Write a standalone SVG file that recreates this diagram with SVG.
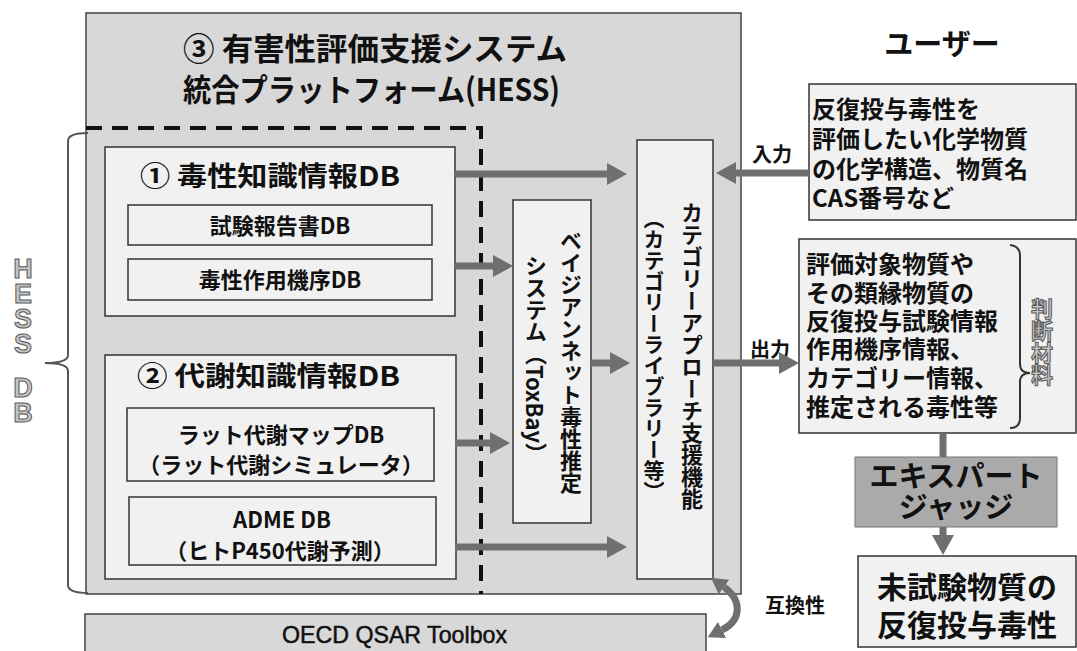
<svg xmlns="http://www.w3.org/2000/svg" width="1077" height="651" viewBox="0 0 1077 651">
<defs>
<style>
.jp{font-family:'Noto Sans CJK JP',sans-serif;font-weight:700;fill:#111}
.box{fill:#f1f1f1;stroke:#333;stroke-width:1.5}
.gbox{fill:#d8d8d8;stroke:#444;stroke-width:1.5}
.arr{stroke:#6f6f6f;stroke-width:7;fill:none}
.vt{writing-mode:vertical-rl}
.ol{fill:#c4c4c4;stroke:#5a5a5a;stroke-width:1}
</style>
<marker id="ah" viewBox="0 0 20 22" refX="0" refY="11" markerWidth="20" markerHeight="22" markerUnits="userSpaceOnUse" orient="auto"><path d="M0,0 L20,11 L0,22 z" fill="#6f6f6f"/></marker>
<marker id="ah2" viewBox="0 0 16 18" refX="0" refY="9" markerWidth="16" markerHeight="18" markerUnits="userSpaceOnUse" orient="auto-start-reverse"><path d="M0,0 L16,9 L0,18 z" fill="#6f6f6f"/></marker>
</defs>
<rect width="1077" height="651" fill="#fff"/>

<g id="hess-platform">
<rect class="gbox" x="86" y="13" width="655" height="581"/>
<text class="jp" x="183" y="60" font-size="31" font-weight="600" textLength="384" lengthAdjust="spacingAndGlyphs">③ 有害性評価支援システム</text>
<text class="jp" x="183" y="101" font-size="31" font-weight="600" textLength="377" lengthAdjust="spacingAndGlyphs">統合プラットフォーム(HESS)</text>
</g>

<g id="hess-db-dashed">
<path d="M86,128 H481 V594" fill="none" stroke="#111" stroke-width="4" stroke-dasharray="16 10"/>
</g>

<g id="hess-db-brace">
<path d="M88,133 Q68,133 68,141 L68,355 Q68,363 45,363 Q68,363 68,371 L68,585 Q68,593 88,593" fill="none" stroke="#555" stroke-width="2"/>
<text class="ol" font-family="'Liberation Sans',sans-serif" font-weight="700" font-size="27" text-anchor="middle"><tspan x="23" y="278">H</tspan><tspan x="23" y="303">E</tspan><tspan x="23" y="328">S</tspan><tspan x="23" y="353">S</tspan><tspan x="23" y="375"> </tspan><tspan x="23" y="397">D</tspan><tspan x="23" y="422">B</tspan></text>
</g>

<g id="tox-knowledge-db">
<rect class="box" x="105" y="147" width="350" height="169"/>
<text class="jp" x="140" y="186" font-size="27" font-weight="600" textLength="260" lengthAdjust="spacingAndGlyphs">① 毒性知識情報DB</text>
</g>
<g id="test-report-db">
<rect class="box" x="128" y="205" width="304" height="40"/>
<text class="jp" x="280" y="234" font-size="22" text-anchor="middle">試験報告書DB</text>
</g>
<g id="moa-db">
<rect class="box" x="128" y="259" width="304" height="41"/>
<text class="jp" x="280" y="288" font-size="22" text-anchor="middle">毒性作用機序DB</text>
</g>

<g id="metab-knowledge-db">
<rect class="box" x="105" y="355" width="351" height="224"/>
<text class="jp" x="137" y="386" font-size="27" font-weight="600" textLength="263" lengthAdjust="spacingAndGlyphs">② 代謝知識情報DB</text>
</g>
<g id="rat-map-db">
<rect class="box" x="127" y="408" width="307" height="73"/>
<text class="jp" x="281" y="443" font-size="22" text-anchor="middle">ラット代謝マップDB</text>
<text class="jp" x="281" y="473" font-size="22" text-anchor="middle">（ラット代謝シミュレータ）</text>
</g>
<g id="adme-db">
<rect class="box" x="129" y="497" width="307" height="68"/>
<text class="jp" x="282" y="528" font-size="22" text-anchor="middle">ADME DB</text>
<text class="jp" x="280" y="559" font-size="22" text-anchor="middle">（ヒトP450代謝予測）</text>
</g>

<g id="toxbay">
<rect class="box" x="513" y="200" width="78" height="323"/>
<text class="jp vt" x="571" y="230" font-size="22" font-weight="500">ベイジアンネット毒性推定</text>
<text class="jp vt" x="536" y="255" font-size="22" font-weight="500">システム（ToxBay）</text>
</g>

<g id="category-approach">
<rect class="box" x="637" y="140" width="76" height="439"/>
<text class="jp vt" x="692" y="202" font-size="22" font-weight="600">カテゴリーアプローチ支援機能</text>
<text class="jp vt" x="654" y="208" font-size="21" font-weight="500">（カテゴリーライブラリー等）</text>
</g>

<g id="oecd-toolbox">
<rect class="gbox" x="85" y="614" width="621" height="45"/>
<text x="282" y="643" font-family="'Liberation Sans',sans-serif" font-size="24" fill="#111" stroke="#111" stroke-width="0.5" textLength="225" lengthAdjust="spacingAndGlyphs">OECD QSAR Toolbox</text>
</g>

<g id="user-label">
<text class="jp" x="942" y="55" font-size="29" text-anchor="middle">ユーザー</text>
</g>
<g id="user-input">
<rect class="box" x="809" y="84" width="267" height="136"/>
<text class="jp" x="812" y="118" font-size="24">反復投与毒性を</text>
<text class="jp" x="812" y="148" font-size="24">評価したい化学物質</text>
<text class="jp" x="812" y="178" font-size="24">の化学構造、物質名</text>
<text class="jp" x="812" y="207" font-size="24">CAS番号など</text>
</g>

<g id="judgement-material">
<rect class="box" x="799" y="239" width="277" height="194"/>
<text class="jp" x="806" y="273" font-size="24">評価対象物質や</text>
<text class="jp" x="806" y="302" font-size="24">その類縁物質の</text>
<text class="jp" x="806" y="330" font-size="24">反復投与試験情報</text>
<text class="jp" x="806" y="358" font-size="24">作用機序情報、</text>
<text class="jp" x="806" y="387" font-size="24">カテゴリー情報、</text>
<text class="jp" x="806" y="416" font-size="24">推定される毒性等</text>
<path d="M1010,245 Q1020,246 1020,256 L1020,364 Q1020,373 1030,373 Q1020,373 1020,382 L1020,418 Q1020,428 1010,428" fill="none" stroke="#333" stroke-width="2"/>
<text class="jp vt ol" x="1042" y="298" font-size="22">判断材料</text>
</g>

<g id="expert-judge">
<rect x="855" y="457" width="202" height="70" fill="#aaaaaa" stroke="#777" stroke-width="1"/>
<text class="jp" x="956" y="487" font-size="29" text-anchor="middle" font-weight="500">エキスパート</text>
<text class="jp" x="956" y="518" font-size="29" text-anchor="middle" font-weight="500">ジャッジ</text>
</g>

<g id="result">
<rect class="box" x="858" y="556" width="218" height="91"/>
<text class="jp" x="967" y="598" font-size="30" text-anchor="middle" font-weight="500">未試験物質の</text>
<text class="jp" x="967" y="636" font-size="30" text-anchor="middle" font-weight="500">反復投与毒性</text>
</g>

<g id="labels">
<text class="jp" x="772" y="162" font-size="20" text-anchor="middle">入力</text>
<text class="jp" x="770" y="357" font-size="20" text-anchor="middle">出力</text>
<text class="jp" x="795" y="613" font-size="20" text-anchor="middle">互換性</text>
</g>

<g id="connectors">
<line class="arr" x1="455" y1="174" x2="607" y2="174" marker-end="url(#ah)"/>
<line class="arr" x1="455" y1="266" x2="493" y2="266" marker-end="url(#ah)"/>
<line class="arr" x1="455" y1="443" x2="490" y2="443" marker-end="url(#ah)"/>
<line class="arr" x1="591" y1="363" x2="610" y2="363" marker-end="url(#ah)"/>
<line class="arr" x1="455" y1="547" x2="607" y2="547" marker-end="url(#ah)"/>
<line class="arr" x1="809" y1="173" x2="736" y2="173" marker-end="url(#ah)"/>
<line class="arr" x1="713" y1="363" x2="779" y2="363" marker-end="url(#ah)"/>
<line class="arr" x1="943" y1="433" x2="943" y2="457"/>
<line class="arr" x1="943" y1="527" x2="943" y2="535" marker-end="url(#ah)"/>
<path d="M724,587 C742,600 742,620 722,630" class="arr" stroke-width="5" marker-start="url(#ah2)" marker-end="url(#ah2)"/>
</g>
</svg>
